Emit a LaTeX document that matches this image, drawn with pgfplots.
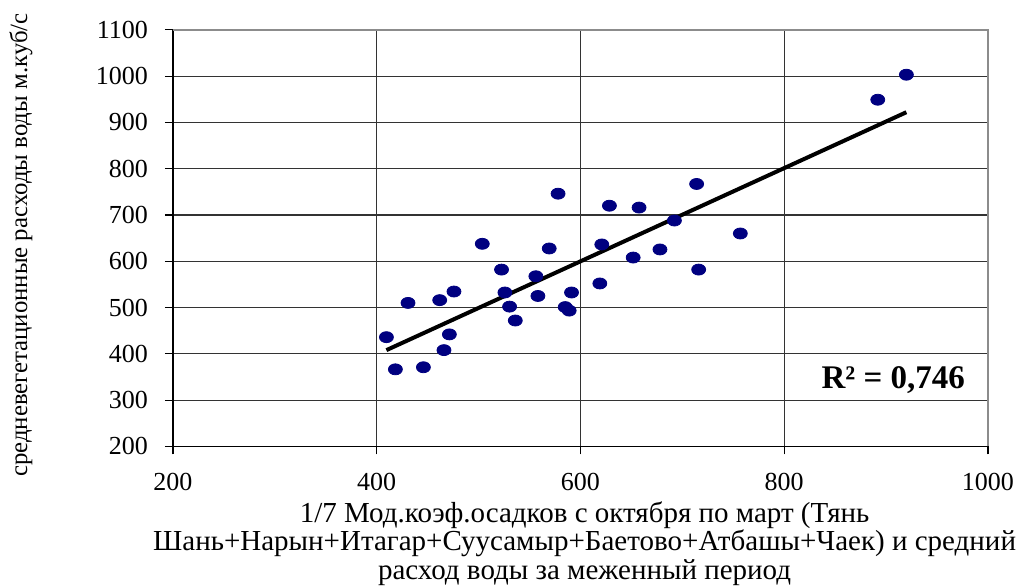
\documentclass[border=0pt]{standalone}
\usepackage{pgfplots}
\pgfplotsset{compat=1.18}
\usepackage{fontspec}
\setmainfont{Liberation Serif}
\definecolor{navyd}{RGB}{0,0,128}
\begin{document}
\begin{tikzpicture}
\useasboundingbox (-86.5pt,-69.3pt) rectangle (428pt,223.2pt);
\begin{axis}[
  at={(0,0)}, anchor=south west,
  scale only axis, width=407.5pt, height=208.3pt,
  xmin=200, xmax=1000, ymin=200, ymax=1100,
  xtick={200,400,600,800,1000},
  ytick={200,300,400,500,600,700,800,900,1000,1100},
  axis x line*=bottom, axis y line*=left,
  axis line style={-, black, line width=0.8pt},
  xmajorgrids, ymajorgrids,
  grid style={black!80, line width=0.55pt},
  tick align=outside,
  major tick length=4pt,
  tick style={black, line width=0.6pt},
  /pgf/number format/assume math mode=true,
  /pgf/number format/1000 sep={},
  tick label style={font=\fontsize{13}{15}\selectfont},
  yticklabel style={xshift=-5pt},
  xticklabel style={yshift=-6pt},
  clip=false,
  xlabel={1/7 Мод.коэф.осадков с октября по март (Тянь\\Шань+Нарын+Итагар+Суусамыр+Баетово+Атбашы+Чаек) и средний\\расход воды за меженный период},
  xlabel style={at={(axis description cs:0.505,-0.131)}, anchor=north, align=center, inner sep=0pt,
    font=\fontsize{14.5}{14.3}\selectfont},
  ylabel={средневегетационные расходы воды м.куб/с},
  ylabel style={at={(axis description cs:-0.1865,0.483)}, anchor=center, inner sep=0pt,
    font=\fontsize{12.4}{14}\selectfont},
]
\draw[black!45, line width=0.7pt] (rel axis cs:0,1) -- (rel axis cs:1,1) -- (rel axis cs:1,0);
\addplot[only marks, mark=*, mark size=2.75pt, mark options={xscale=1.27, fill=navyd, draw=navyd}] coordinates {
(409.5,436) (418.3,366.5) (430.7,510) (445.8,371) (461.8,516) (466,408)
(471.3,442) (475.8,534.6) (503.6,637.7) (522.5,582) (525.8,532.5) (530.4,502)
(536,472) (556.2,567.6) (558.2,525) (569.3,627.6) (578,746) (585,501)
(588.9,493.4) (591.2,532.5) (619,552) (620.9,636.3) (628.4,720) (651.7,608)
(657.5,716) (678,625.5) (692.2,688) (714,767) (716,582) (756.9,660)
(891.8,949) (919.9,1003)
};
\addplot[black, line width=2pt] coordinates {(409.5,408) (919.9,922)};
\node[font=\bfseries\fontsize{16.5}{18}\selectfont, inner sep=0pt] at (axis cs:907,343) {R² = 0,746};
\end{axis}
\end{tikzpicture}
\end{document}
